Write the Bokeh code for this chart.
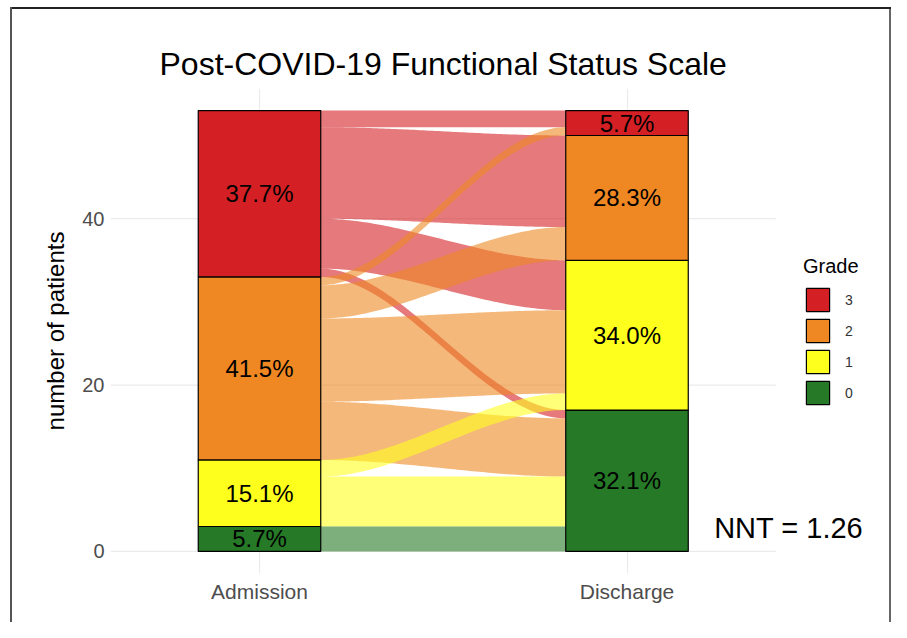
import numpy as np
from bokeh.plotting import figure
from bokeh.models import Range1d, FixedTicker, Legend, LegendItem, Label, ColumnDataSource
from bokeh.core.properties import value
from bokeh.embed import file_html
from bokeh.resources import INLINE

# ---------------- data ----------------
title_text = "Post-COVID-19 Functional Status Scale"
stages = ["Admission", "Discharge"]
grades = ["0", "1", "2", "3"]
admission_counts = [3, 8, 22, 20]     # grade 0..3
discharge_counts = [17, 18, 15, 3]    # grade 0..3
flow_from = ["3", "3", "3", "3", "2", "2", "2", "2", "1", "1", "0"]
flow_to   = ["3", "2", "1", "0", "3", "2", "1", "0", "1", "0", "0"]
flow_n    = [2, 11, 6, 1, 1, 4, 10, 7, 2, 6, 3]
nnt_text = "NNT = 1.26"
y_ticks = [0, 20, 40]

colors = {"3": "#D42024", "2": "#EF8823", "1": "#FFFF1E", "0": "#267A27"}
FONT = "Liberation Sans"

total = sum(admission_counts)
bar_w = 1 / 3
x_lo, x_grid_hi, x_hi = 0.5946, 2.405, 2.7197


def stack(counts):
    bottoms, tops, b = {}, {}, 0
    for g, c in zip(grades, counts):
        bottoms[g] = b
        tops[g] = b + c
        b += c
    return bottoms, tops


a_bot, a_top = stack(admission_counts)
d_bot, d_top = stack(discharge_counts)

p = figure(width=891, height=622, output_backend="svg", toolbar_location=None,
           x_range=Range1d(x_lo, x_hi), y_range=Range1d(-2.65, 55.65),
           min_border_left=110, min_border_right=0, min_border_top=88,
           min_border_bottom=49)
p.styles = {"background-color": "#ffffff",
            "box-shadow": "inset 10px 0 0 0 #ffffff, inset 0 7px 0 0 #ffffff, "
                          "inset 12px 0 0 0 #555555, inset 0 9px 0 0 #222222, "
                          "inset -2px 0 0 0 #666666"}
p.border_fill_alpha = 0
p.background_fill_alpha = 0
p.outline_line_color = None

# ---------------- grid ----------------
p.ygrid.grid_line_color = None
p.xgrid.grid_line_color = "#EBEBEB"
p.xgrid.grid_line_width = 1.2
p.segment(x0=[x_lo] * len(y_ticks), x1=[x_grid_hi] * len(y_ticks), y0=y_ticks, y1=y_ticks,
          line_color="#EBEBEB", line_width=1.2)

# ---------------- flows ----------------
flows = []
for src in ["3", "2", "1", "0"]:
    for f, t, n in zip(flow_from, flow_to, flow_n):
        if f == src:
            flows.append((f, t, n))
a_cursor = dict(a_top)
d_cursor = dict(d_top)
left_pos, right_pos = {}, {}
for f, t, n in flows:
    left_pos[(f, t)] = (a_cursor[f] - n, a_cursor[f])
    a_cursor[f] -= n
for f, t, n in flows:
    right_pos[(f, t)] = (d_cursor[t] - n, d_cursor[t])
    d_cursor[t] -= n

x0, x1 = 1 + bar_w / 2, 2 - bar_w / 2
tt = np.linspace(0, 1, 80)
ss = tt * tt * (3 - 2 * tt)
xs_curve = x0 + (x1 - x0) * tt
fx, fy, fc = [], [], []
for f, t, n in flows:
    lb, lt = left_pos[(f, t)]
    rb, rt = right_pos[(f, t)]
    top = lt + (rt - lt) * ss
    bot = lb + (rb - lb) * ss
    fx.append(list(xs_curve) + list(xs_curve[::-1]))
    fy.append(list(top) + list(bot[::-1]))
    fc.append(colors[f])
p.patches(xs=fx, ys=fy, fill_color=fc, fill_alpha=0.6, line_color=None)

# ---------------- strata ----------------
renderers = {}
lab_x, lab_y, lab_t = [], [], []
for i, g in enumerate(grades):
    src = ColumnDataSource(dict(x=[1, 2], bottom=[a_bot[g], d_bot[g]], top=[a_top[g], d_top[g]]))
    renderers[g] = p.vbar(x="x", bottom="bottom", top="top", width=bar_w, source=src,
                          fill_color=colors[g], line_color="black", line_width=1.2)
    for xpos, c, b in [(1, admission_counts[i], a_bot[g]), (2, discharge_counts[i], d_bot[g])]:
        lab_x.append(xpos)
        lab_y.append(b + c / 2)
        lab_t.append(f"{100 * c / total:.1f}%")
p.text(x=lab_x, y=lab_y, text=lab_t, text_align="center", text_baseline="middle",
       text_font=value(FONT), text_font_size="24px", text_color="black")

# ---------------- axes ----------------
p.xaxis.ticker = FixedTicker(ticks=[1, 2])
p.xaxis.major_label_overrides = {1: stages[0], 2: stages[1]}
p.yaxis.ticker = FixedTicker(ticks=y_ticks)
for ax in (p.xaxis, p.yaxis):
    ax.axis_line_color = None
    ax.major_tick_line_color = None
    ax.minor_tick_line_color = None
    ax.major_label_text_font = FONT
    ax.major_label_text_color = "#4D4D4D"
p.xaxis.major_label_text_font_size = "21px"
p.yaxis.major_label_text_font_size = "20px"
p.xaxis.major_label_standoff = 0
p.yaxis.major_label_standoff = 0
p.yaxis.axis_label = "number of patients"
p.yaxis.axis_label_text_font = FONT
p.yaxis.axis_label_text_font_style = "normal"
p.yaxis.axis_label_text_font_size = "24px"
p.yaxis.axis_label_text_color = "black"
p.yaxis.axis_label_standoff = 10

# ---------------- title ----------------
p.title.text = title_text
p.title.align = "left"
p.title.offset = 49
p.title.text_font = FONT
p.title.text_font_style = "normal"
p.title.text_font_size = "32px"
p.title.text_color = "black"
p.title.standoff = 14

# ---------------- legend ----------------
items = [LegendItem(label=g, renderers=[renderers[g]]) for g in ["3", "2", "1", "0"]]
legend = Legend(items=items, title="Grade", location=(693, 166),
                glyph_width=29, glyph_height=29, spacing=2, padding=0, margin=0,
                label_standoff=13, label_text_font=FONT, label_text_font_size="14px",
                label_text_color="#333333", title_text_font=FONT,
                title_text_font_size="20px", title_text_font_style="normal",
                title_text_color="black",
                title_standoff=7, border_line_color=None, background_fill_alpha=0)
p.add_layout(legend)

# ---------------- NNT annotation ----------------
p.add_layout(Label(x=2.44, y=2.76, text=nnt_text, text_align="center",
                   text_baseline="middle", text_font=FONT, text_font_size="29px",
                   text_color="black"))

open("out.html", "w").write(file_html(p, INLINE))
